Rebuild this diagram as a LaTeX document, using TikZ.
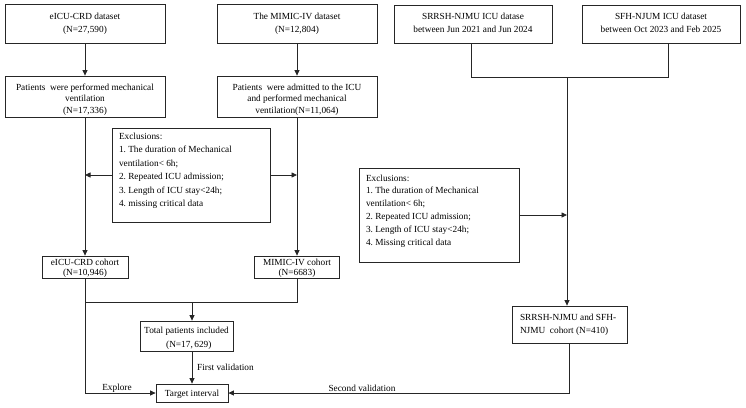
\documentclass[tikz,border=0pt]{standalone}
\usepackage{fontspec}
\setmainfont{Liberation Serif}
\frenchspacing
\usetikzlibrary{arrows.meta}
% #1 height, #2 width, #3 first baseline below top, #4 line spacing, #5 alignment, #6 text
\newcommand{\tbox}[6]{\parbox[c][#1][t]{#2}{#5\fontsize{9.3}{#4}\selectfont\rule{0pt}{#3}#6}}
\newcommand{\lft}{\raggedright\leftskip=7pt\relax}
\tikzset{
  box/.style={draw=black!85, line width=0.8pt, inner sep=0pt},
  conn/.style={draw=black!85, line width=0.8pt},
  arr/.style={conn, -{Triangle[length=5.5pt,width=5pt]}},
  lbl/.style={font=\fontsize{9.3}{11}\selectfont, inner sep=0pt}
}
\begin{document}
\begin{tikzpicture}[x=1pt,y=-1pt]
\useasboundingbox[fill=white] (0,0) rectangle (746,407);
% top datasets
\node[box] (d1) at (85,23.5) {\tbox{39pt}{160pt}{15pt}{13pt}{\centering}{eICU-CRD dataset\\(N=27,590)}};
\node[box] (d2) at (297,23.5) {\tbox{39pt}{160pt}{15pt}{13pt}{\centering}{The MIMIC-IV dataset\\(N=12,804)}};
\node[box] (d3) at (473,24) {\tbox{38pt}{158pt}{14pt}{13pt}{\centering}{SRRSH-NJMU ICU datase\\between Jun 2021 and Jun 2024}};
\node[box] (d4) at (661,24) {\tbox{38pt}{158pt}{14pt}{13pt}{\centering}{SFH-NJUM ICU dataset\\between Oct 2023 and Feb 2025}};
% patients
\node[box] (p1) at (85,96.5) {\tbox{41pt}{160pt}{14pt}{11.8pt}{\centering}{Patients\ \ were performed mechanical\\ventilation\\(N=17,336)}};
\node[box] (p2) at (297,96.5) {\tbox{41pt}{160pt}{14pt}{11.8pt}{\centering}{Patients\ \ were admitted to the ICU\\and performed mechanical\\ventilation(N=11,064)}};
% exclusions
\node[box] (ex1) at (191,175) {\tbox{94pt}{158pt}{11.5pt}{13.4pt}{\lft}{Exclusions:\\1. The duration of Mechanical\\ventilation< 6h;\\2. Repeated ICU admission;\\3. Length of ICU stay<24h;\\4. missing critical data}};
\node[box] (ex2) at (439,215) {\tbox{94pt}{160pt}{13pt}{12.9pt}{\lft}{Exclusions:\\1. The duration of Mechanical\\ventilation< 6h;\\2. Repeated ICU admission;\\3. Length of ICU stay<24h;\\4. Missing critical data}};
% cohorts
\node[box] (c1) at (85,267) {\tbox{22pt}{86pt}{9.5pt}{10pt}{\centering}{eICU-CRD cohort\\(N=10,946)}};
\node[box] (c2) at (297,267) {\tbox{22pt}{85pt}{9.5pt}{10pt}{\centering}{MIMIC-IV cohort\\(N=6683)}};
\node[box] (tot) at (186.5,336) {\tbox{30pt}{93pt}{12.5pt}{13.5pt}{\centering}{Total patients included\\\ \ (N=17,\,629)}};
\node[box] (tg) at (192,393) {\tbox{18pt}{72pt}{12pt}{12pt}{\centering}{Target interval}};
\node[box] (c3) at (569.5,324.5) {\tbox{37pt}{115pt}{14pt}{13pt}{\raggedright\leftskip=8pt\relax}{SRRSH-NJMU and SFH-\\NJMU\ \ cohort (N=410)}};
% helper coordinates
\coordinate (j) at (192,302);
\coordinate (m) at (567,77);
% connectors left
\draw[arr] (d1.south) -- (p1.north);
\draw[arr] (d2.south) -- (p2.north);
\draw[arr] (p1.south) -- (c1.north);
\draw[arr] (p2.south) -- (c2.north);
\draw[arr] (ex1.west) -- (ex1.west -| p1.south);
\draw[arr] (ex1.east) -- (ex1.east -| p2.south);
\draw[conn] (c2.south) -- (c2.south |- j) -- (c1.south |- j);
\draw[arr] (j) -- (j |- tot.north);
\draw[arr] (tot.south -| tg.north) -- (tg.north);
\draw[arr] (c1.south) -- (c1.south |- tg.west) -- (tg.west);
% connectors right
\draw[conn] (d3.south -| 471,0) -- (471,77) -- (668,77) -- (d4.south -| 668,0);
\draw[arr] (m) -- (m |- c3.north);
\draw[arr] (ex2.east) -- (ex2.east -| m);
\draw[arr] (c3.south) -- (c3.south |- tg.east) -- (tg.east);
% labels
\node[lbl, anchor=west] (l1) at (197,367.5) {First validation};
\node[lbl] (l2) at (117,388) {Explore};
\node[lbl] (l3) at (362,388.5) {Second validation};
\end{tikzpicture}
\end{document}
